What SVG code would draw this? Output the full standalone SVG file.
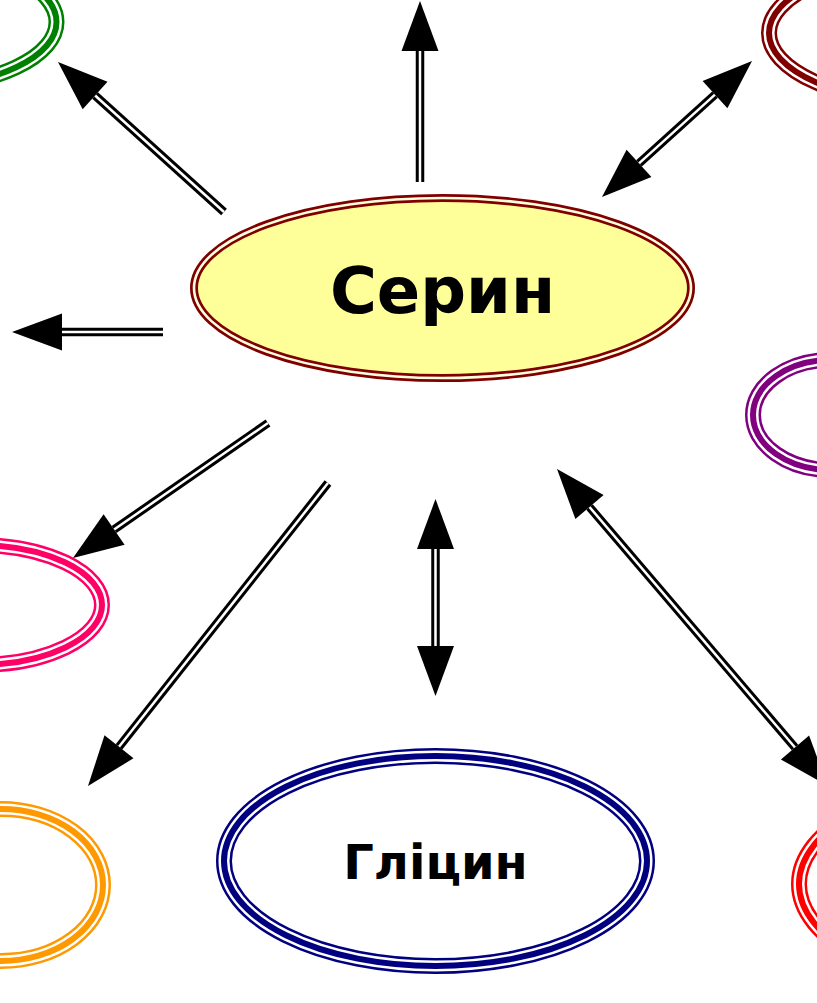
<svg xmlns="http://www.w3.org/2000/svg" width="817" height="1003" viewBox="0 0 817 1003">
<style>
.b1{fill:none;stroke-width:16}
.b2{fill:none;stroke:#ffffff;stroke-width:11}
.b3{fill:none;stroke-width:6}
.shaft{stroke:#000000;stroke-width:8.5;fill:none}
.core{stroke:#ffffff;stroke-width:2.5;fill:none}
.head{fill:#000000;stroke:none}
.lbl{font-family:"DejaVu Sans","Liberation Sans",sans-serif;font-weight:bold;fill:#000000;text-anchor:middle}
</style>
<rect width="817" height="1003" fill="#ffffff"/>

<g id="node-green">
<ellipse cx="-81" cy="22" rx="137.5" ry="64" class="b1" stroke="#008000"/>
<ellipse cx="-81" cy="22" rx="137.5" ry="64" class="b2"/>
<ellipse cx="-81" cy="22" rx="137.5" ry="64" class="b3" stroke="#008000"/>
</g>
<g id="node-darkred">
<ellipse cx="931" cy="33" rx="162" ry="70" class="b1" stroke="#800000"/>
<ellipse cx="931" cy="33" rx="162" ry="70" class="b2"/>
<ellipse cx="931" cy="33" rx="162" ry="70" class="b3" stroke="#800000"/>
</g>
<g id="node-purple">
<ellipse cx="831" cy="415" rx="78" ry="55" class="b1" stroke="#800080"/>
<ellipse cx="831" cy="415" rx="78" ry="55" class="b2"/>
<ellipse cx="831" cy="415" rx="78" ry="55" class="b3" stroke="#800080"/>
</g>
<g id="node-pink">
<ellipse cx="-23" cy="605" rx="125" ry="60" class="b1" stroke="#ff0066"/>
<ellipse cx="-23" cy="605" rx="125" ry="60" class="b2"/>
<ellipse cx="-23" cy="605" rx="125" ry="60" class="b3" stroke="#ff0066"/>
</g>
<g id="node-orange">
<ellipse cx="1" cy="885" rx="102" ry="76" class="b1" stroke="#ff9900"/>
<ellipse cx="1" cy="885" rx="102" ry="76" class="b2"/>
<ellipse cx="1" cy="885" rx="102" ry="76" class="b3" stroke="#ff9900"/>
</g>
<g id="node-red">
<ellipse cx="1010" cy="884" rx="211" ry="105" class="b1" stroke="#ff0000"/>
<ellipse cx="1010" cy="884" rx="211" ry="105" class="b2"/>
<ellipse cx="1010" cy="884" rx="211" ry="105" class="b3" stroke="#ff0000"/>
</g>
<g id="node-glycine">
<ellipse cx="435.5" cy="861" rx="211.5" ry="105" class="b1" stroke="#000080" style="fill:#ffffff"/>
<ellipse cx="435.5" cy="861" rx="211.5" ry="105" class="b2"/>
<ellipse cx="435.5" cy="861" rx="211.5" ry="105" class="b3" stroke="#000080"/>
<text x="435.5" y="879" class="lbl" font-size="48">Гліцин</text>
</g>
<g id="node-serine">
<ellipse cx="442.5" cy="288" rx="248.5" ry="90" fill="#ffff99" stroke="#800000" stroke-width="8"/>
<ellipse cx="442.5" cy="288" rx="248.5" ry="90" fill="none" stroke="#ffffe0" stroke-width="2.6"/>
<text x="442.5" y="313" class="lbl" font-size="64">Серин</text>
</g>

<g id="connectors">
<line x1="224" y1="212" x2="95.1" y2="95.5" class="shaft"/>
<line x1="224" y1="212" x2="95.1" y2="95.5" class="core"/>
<polygon points="58,62 107.5,81.8 82.7,109.2" class="head"/>

<line x1="420" y1="182" x2="420" y2="51" class="shaft"/>
<line x1="420" y1="182" x2="420" y2="51" class="core"/>
<polygon points="420,1 438.5,51 401.5,51" class="head"/>

<line x1="715" y1="94.6" x2="639" y2="163.4" class="shaft"/>
<line x1="715" y1="94.6" x2="639" y2="163.4" class="core"/>
<polygon points="752,61 727.4,108.3 702.6,80.9" class="head"/>
<polygon points="602,197 651.4,177.1 626.6,149.7" class="head"/>

<line x1="163" y1="332" x2="62" y2="332" class="shaft"/>
<line x1="163" y1="332" x2="62" y2="332" class="core"/>
<polygon points="12,332 62,313.5 62,350.5" class="head"/>

<line x1="268" y1="423" x2="114.1" y2="529.5" class="shaft"/>
<line x1="268" y1="423" x2="114.1" y2="529.5" class="core"/>
<polygon points="73,558 103.6,514.3 124.6,544.7" class="head"/>

<line x1="328" y1="483" x2="119" y2="746.8" class="shaft"/>
<line x1="328" y1="483" x2="119" y2="746.8" class="core"/>
<polygon points="88,786 104.5,735.3 133.5,758.3" class="head"/>

<line x1="435.5" y1="549" x2="435.5" y2="646" class="shaft"/>
<line x1="435.5" y1="549" x2="435.5" y2="646" class="core"/>
<polygon points="435.5,499 454,549 417,549" class="head"/>
<polygon points="435.5,696 454,646 417,646" class="head"/>

<line x1="589.5" y1="507" x2="795" y2="747.5" class="shaft"/>
<line x1="589.5" y1="507" x2="795" y2="747.5" class="core"/>
<polygon points="557,469 603.6,495 575.4,519" class="head"/>
<polygon points="827.5,785.5 809.1,735.5 780.9,759.5" class="head"/>
</g>
</svg>
